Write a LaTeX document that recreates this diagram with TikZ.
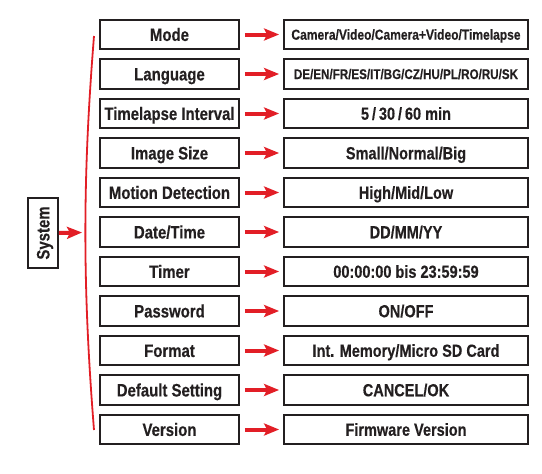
\documentclass[tikz,border=0pt]{standalone}
\usepackage{fontspec}
\newfontfamily\cond[FakeStretch=0.83,FakeBold=0.4]{Liberation Sans Bold}
\usetikzlibrary{arrows.meta}
\definecolor{redar}{RGB}{226,30,38}
\definecolor{ink}{RGB}{35,31,32}
\begin{document}
\begin{tikzpicture}[x=1pt,y=-1pt,
  box/.style={draw=ink, line width=1.8pt, inner sep=0pt, text=ink,
    font=\cond\fontsize{18}{21}\selectfont, text height=12.9pt, text depth=0pt,
    minimum height=29.5pt},
  lbox/.style={box, minimum width=139pt},
  rbox/.style={box, minimum width=244pt},
  midsize/.style={font=\cond\fontsize{17.5}{20}\selectfont, text height=12.5pt},
  small/.style={font=\cond\fontsize{14.5}{17}\selectfont, text height=10.4pt},
  tiny/.style={font=\cond\fontsize{14}{16}\selectfont, text height=10pt},
  arr/.style={draw=redar, line width=4pt, -{Stealth[length=15pt,width=12pt,inset=3pt]}},
  brk/.style={draw=redar, line width=1.8pt}]
\useasboundingbox (0,0) rectangle (542,474);
% left column
\node[lbox] (l1)  at (169.5,34.5)  {Mode};
\node[lbox] (l2)  at (169.5,74)    {Language};
\node[lbox] (l3)  at (169.5,113.5) {Timelapse Interval};
\node[lbox] (l4)  at (169.5,153)   {Image Size};
\node[lbox] (l5)  at (169.5,192.5) {Motion Detection};
\node[lbox] (l6)  at (169.5,232)   {Date/Time};
\node[lbox] (l7)  at (169.5,271.5) {Timer};
\node[lbox] (l8)  at (169.5,311)   {Password};
\node[lbox] (l9)  at (169.5,350.5) {Format};
\node[lbox] (l10) at (169.5,390)   {Default Setting};
\node[lbox] (l11) at (169.5,429.5) {Version};
% right column
\node[rbox,small] (r1)  at (406,34.5)  {Camera/Video/Camera+Video/Timelapse};
\node[rbox,tiny]  (r2)  at (406,74)    {DE/EN/FR/ES/IT/BG/CZ/HU/PL/RO/RU/SK};
\node[rbox,midsize] (r3)  at (406,113.5) {5\,/\,30\,/\,60 min};
\node[rbox,midsize] (r4)  at (406,153)   {Small/Normal/Big};
\node[rbox,midsize] (r5)  at (406,192.5) {High/Mid/Low};
\node[rbox,midsize] (r6)  at (406,232)   {DD/MM/YY};
\node[rbox,midsize] (r7)  at (406,271.5) {00:00:00 bis 23:59:59};
\node[rbox,midsize] (r8)  at (406,311)   {ON/OFF};
\node[rbox,midsize] (r9)  at (406,350.5) {Int. Memory/Micro SD Card};
\node[rbox,midsize] (r10) at (406,390)   {CANCEL/OK};
\node[rbox,midsize] (r11) at (406,429.5) {Firmware Version};
% arrows between columns
\foreach \i in {1,...,11}{
  \draw[arr] ([xshift=5pt]l\i.east) -- ([xshift=-4pt]r\i.west);
}
% system box
\node[box, minimum width=70pt, minimum height=30pt, rotate=90] (sys) at (43,233) {System};
% bracket
\coordinate (bt) at (94,36);
\coordinate (bb) at (94,430);
\coordinate (bend) at (82,232.5);
\draw[brk] (bt) .. controls (82.5,180) and (82.5,285) .. (bb);
\draw[arr] (sys.south) -- (bend);
\end{tikzpicture}
\end{document}
